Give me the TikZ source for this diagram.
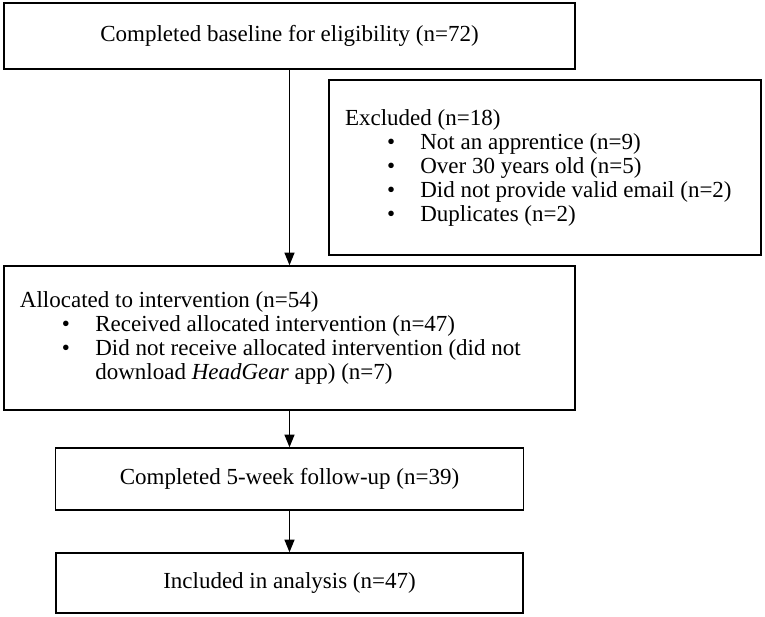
\documentclass[tikz,border=0pt]{standalone}
\usepackage{fontspec}
\setmainfont{Liberation Serif}
\usetikzlibrary{arrows.meta}

\newcommand{\itm}[1]{\hspace*{31.5pt}\makebox[25pt][l]{\textbullet}#1}

\begin{document}
\begin{tikzpicture}[x=0.75pt, y=-0.75pt,
    box/.style={draw, line width=1.1pt, inner sep=0pt, font=\fontsize{17.25pt}{18pt}\selectfont},
    listbox/.style={box, inner xsep=12pt, align=flush left},
    arr/.style={line width=1pt, -{Triangle[length=9.5pt,width=7.5pt]}}]
    \useasboundingbox (0,0) rectangle (765,617);

    \node[box, minimum width=428.25pt, minimum height=49.5pt] (base) at (289.5,36) {Completed baseline for eligibility (n=72)};
    \node[listbox, minimum height=131.25pt, text width=300pt] (excl) at (545,167.5) {Excluded (n=18)\\
        \itm{Not an apprentice (n=9)}\\
        \itm{Over 30 years old (n=5)}\\
        \itm{Did not provide valid email (n=2)}\\
        \itm{Duplicates (n=2)}};
    \node[listbox, minimum height=108pt, text width=404.25pt] (alloc) at (289.5,338) {Allocated to intervention (n=54)\\
        \itm{Received allocated intervention (n=47)}\\
        \itm{Did not receive allocated intervention (did not}\\
        \hspace*{56.5pt}download \textit{HeadGear} app) (n=7)};
    \node[box, minimum width=351pt, minimum height=46.5pt] (follow) at (289.5,479) {Completed 5-week follow-up (n=39)};
    \node[box, minimum width=350.25pt, minimum height=45pt] (incl) at (289.5,583) {Included in analysis (n=47)};

    \draw[arr] (base) -- (alloc);
    \draw[arr] (alloc) -- (follow);
    \draw[arr] (follow) -- (incl);
\end{tikzpicture}
\end{document}
